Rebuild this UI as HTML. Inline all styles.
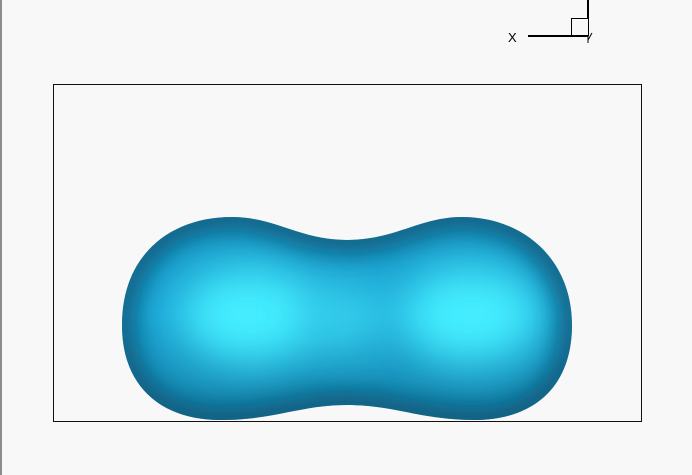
<!DOCTYPE html>
<html><head><meta charset="utf-8"><style>
html,body{margin:0;padding:0;background:#f8f8f8;}
svg{display:block;}
</style></head><body>
<svg width="692" height="475" viewBox="0 0 692 475" xmlns="http://www.w3.org/2000/svg">
<defs>
<filter id="b1" x="-50%" y="-50%" width="200%" height="200%"><feGaussianBlur stdDeviation="12"/></filter>
<filter id="b2" x="-50%" y="-50%" width="200%" height="200%"><feGaussianBlur stdDeviation="22"/></filter>
<linearGradient id="shade" x1="0" y1="0" x2="0" y2="1">
<stop offset="0" stop-color="#000" stop-opacity="0.08"/>
<stop offset="0.5" stop-color="#000" stop-opacity="0"/>
<stop offset="1" stop-color="#000" stop-opacity="0.22"/>
</linearGradient>
<clipPath id="blobclip"><path d="M122,325 C122,255 170,217 232,217 C275,217 300,240 347,240 C395,240 420,217 462,217 C524,217 572,260 572,325 C572,390 530,420 475,420 C420,420 395,405 347,405 C300,405 275,420 220,420 C165,420 122,390 122,325 Z"/></clipPath>
</defs>
<line x1="1" y1="0" x2="1" y2="475" stroke="#222" stroke-width="1"/>
<rect x="53.5" y="84.5" width="588" height="337" fill="none" stroke="#111" stroke-width="1"/>
<g clip-path="url(#blobclip)">
<rect x="100" y="200" width="500" height="230" fill="#1ca6d6"/>
<rect x="100" y="200" width="500" height="230" fill="url(#shade)"/>
<ellipse cx="250" cy="315" rx="70" ry="48" fill="#45eeff" filter="url(#b2)"/>
<ellipse cx="470" cy="315" rx="70" ry="48" fill="#45eeff" filter="url(#b2)"/>
<ellipse cx="345" cy="318" rx="45" ry="35" fill="#3ad8f2" filter="url(#b2)" opacity="0.8"/>
<path d="M122,325 C122,255 170,217 232,217 C275,217 300,240 347,240 C395,240 420,217 462,217 C524,217 572,260 572,325 C572,390 530,420 475,420 C420,420 395,405 347,405 C300,405 275,420 220,420 C165,420 122,390 122,325 Z" fill="none" stroke="#07506f" stroke-width="26" filter="url(#b1)" opacity="0.85"/>
</g>
<g>
<line x1="528" y1="36" x2="588" y2="36" stroke="#000" stroke-width="2"/>
<rect x="571.5" y="18.5" width="17" height="17" fill="none" stroke="#000" stroke-width="1"/>
<line x1="588" y1="0" x2="588" y2="19" stroke="#000" stroke-width="2"/>
<line x1="588" y1="36" x2="588" y2="43" stroke="#000" stroke-width="1"/>
<line x1="588" y1="40" x2="592" y2="33" stroke="#000" stroke-width="1"/>
<text x="508" y="42" font-family="Liberation Sans, sans-serif" font-size="13" fill="#000">X</text>
</g>
</svg>
</body></html>
